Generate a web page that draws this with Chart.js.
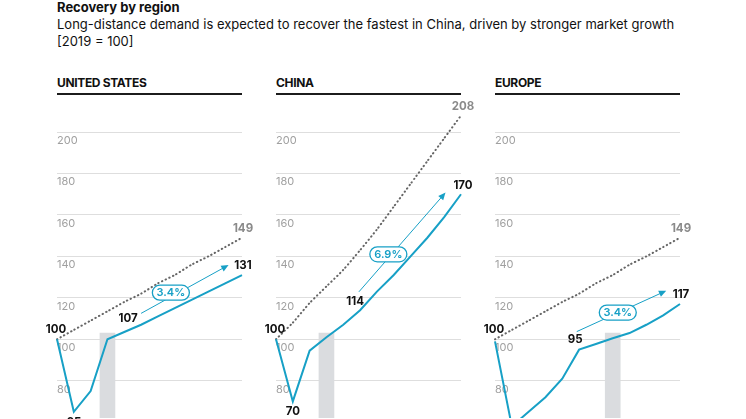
<!DOCTYPE html>
<html>
<head>
<meta charset="utf-8">
<script src="https://cdn.jsdelivr.net/npm/chart.js@4.4.1/dist/chart.umd.min.js"></script>
<style>
  body { margin: 0; width: 746px; height: 419px; overflow: hidden; background: #fff; position: relative;
         font-family: Inter, "Noto Sans", sans-serif; color: #111; }
  .hdr { position: absolute; left: 57px; top: -1px; font-size: 13px; line-height: 17px; }
  .hdr b { font-weight: 700; }
  .ptitle { position: absolute; top: 77px; font-size: 12px; line-height: 12px; font-weight: 700; letter-spacing: -0.35px; }
  .rule { position: absolute; top: 93px; height: 2px; width: 185px; background: #1c1c1c; }
  canvas { position: absolute; top: 90px; }
</style>
</head>
<body>
<div class="hdr">
  <b>Recovery by region</b><br>
  Long-distance demand is expected to recover the fastest in China, driven by stronger market growth<br>
  [2019 = 100]
</div>

<div class="ptitle" style="left:57px">UNITED STATES</div>
<div class="rule" style="left:57px"></div>
<div class="ptitle" style="left:276px">CHINA</div>
<div class="rule" style="left:276px"></div>
<div class="ptitle" style="left:495px">EUROPE</div>
<div class="rule" style="left:495px"></div>

<canvas id="usChart" width="225" height="329" style="left:37px"></canvas>
<canvas id="chinaChart" width="225" height="329" style="left:256px"></canvas>
<canvas id="europeChart" width="225" height="329" style="left:475px"></canvas>

<script>
const years = ['2019','2020','2021','2022','2023','2024','2025','2026','2027','2028','2029','2030'];
const tickValues = [80, 100, 120, 140, 160, 180, 200];

const usActual = [100, 65, 75, 100, 103.5, 107, 111, 115, 119, 123, 127, 131];
const usTrend = [100, 104.5, 109, 113.5, 118, 122, 127, 131, 136, 140, 144.5, 149];
const usRecovery = [null, null, null, 103, null, null, null, null, null, null, null, null];
const usRate = '3.4%';

const chinaActual = [100, 70, 94.5, 101, 107, 114, 123, 131, 140, 149, 159, 170];
const chinaTrend = [100, 108, 117.5, 125.5, 133.5, 143, 153, 164, 175, 186, 197, 208];
const chinaRecovery = [null, null, null, 103, null, null, null, null, null, null, null, null];
const chinaRate = '6.9%';

const europeActual = [99, 58, 65, 72, 81, 95, 97.7, 100.5, 103, 107, 111.5, 117];
const europeTrend = [100, 104.5, 109, 113.5, 118, 122, 127, 131, 136, 140, 144.5, 149];
const europeRecovery = [null, null, null, null, null, null, null, 103, null, null, null, null];
const europeRate = '3.4%';

const TEAL = '#17a0c6';
const FONT = 'Inter, "Noto Sans", sans-serif';

// overlay: value labels, growth arrow and rate pill
function makeOverlay(panel) {
  return {
    id: 'overlay',
    afterDatasetsDraw(chart) {
      const { ctx, scales: { x, y } } = chart;
      ctx.save();

      // arrow
      const x1 = x.getPixelForValue(panel.arrow[0]), y1 = y.getPixelForValue(panel.arrow[1]);
      const x2 = x.getPixelForValue(panel.arrow[2]), y2 = y.getPixelForValue(panel.arrow[3]);
      const ang = Math.atan2(y2 - y1, x2 - x1);
      const head = 8;
      ctx.strokeStyle = TEAL;
      ctx.fillStyle = TEAL;
      ctx.lineWidth = 1;
      ctx.beginPath();
      ctx.moveTo(x1, y1);
      ctx.lineTo(x2 - Math.cos(ang) * head * 0.8, y2 - Math.sin(ang) * head * 0.8);
      ctx.stroke();
      ctx.beginPath();
      ctx.moveTo(x2, y2);
      ctx.lineTo(x2 - Math.cos(ang - 0.42) * head, y2 - Math.sin(ang - 0.42) * head);
      ctx.lineTo(x2 - Math.cos(ang + 0.42) * head, y2 - Math.sin(ang + 0.42) * head);
      ctx.closePath();
      ctx.fill();

      // pill
      const px = x.getPixelForValue(panel.pill[0]), py = y.getPixelForValue(panel.pill[1]);
      const w = 37, h = 15;
      ctx.beginPath();
      ctx.roundRect(px - w / 2, py - h / 2, w, h, h / 2);
      ctx.fillStyle = '#fff';
      ctx.fill();
      ctx.lineWidth = 1.3;
      ctx.strokeStyle = TEAL;
      ctx.stroke();
      ctx.fillStyle = TEAL;
      ctx.font = '600 11px ' + FONT;
      ctx.textAlign = 'center';
      ctx.textBaseline = 'middle';
      ctx.fillText(panel.rate, px, py + 0.5);

      // value labels
      ctx.font = 'bold 11.5px ' + FONT;
      panel.labels.forEach(l => {
        const src = l.trend ? panel.trend : panel.actual;
        const lx = x.getPixelForValue(l.i) + l.dx;
        const ly = y.getPixelForValue(src[l.i]) + l.dy;
        ctx.fillStyle = l.trend && !l.dark ? '#8a8a8a' : '#111';
        ctx.fillText(String(Math.round(src[l.i])), lx, ly);
      });
      ctx.restore();
    }
  };
}

function drawPanel(id, panel) {
  const ctx = document.getElementById(id).getContext('2d');
  new Chart(ctx, {
    data: {
      labels: years,
      datasets: [
        { type: 'bar', data: panel.recovery, backgroundColor: '#dadcdf', barThickness: 15, order: 3 },
        { type: 'line', data: panel.trend, borderColor: '#666', borderWidth: 2, borderCapStyle: 'round',
          borderDash: [0.4, 3.6], pointRadius: 0, tension: 0.2, order: 2 },
        { type: 'line', data: panel.actual, borderColor: TEAL, borderWidth: 2,
          pointRadius: 0, tension: 0, order: 1 }
      ]
    },
    options: {
      responsive: false,
      animation: false,
      events: [],
      layout: { padding: { left: 20, right: 20, top: 11, bottom: 1 } },
      plugins: { legend: { display: false }, tooltip: { enabled: false } },
      scales: {
        x: { display: false, offset: false },
        y: {
          min: 62, max: 215,
          afterBuildTicks: axis => { axis.ticks = tickValues.map(v => ({ value: v })); },
          afterFit: axis => { axis.paddingTop = 0; axis.paddingBottom = 0; },
          border: { display: false },
          grid: { color: '#dedede', lineWidth: 1, drawTicks: false },
          ticks: { mirror: true, padding: 0, labelOffset: 8.5, color: '#a0a0a0',
                   font: { family: FONT, size: 11 } }
        }
      }
    },
    plugins: [makeOverlay(panel)]
  });
}

drawPanel('usChart', {
  actual: usActual, trend: usTrend, recovery: usRecovery, rate: usRate,
  arrow: [5, 112.5, 10.2, 135.8], pill: [6.77, 122.5],
  labels: [
    { i: 0, dx: -1, dy: -9.5 }, { i: 1, dx: 0, dy: 10.5 }, { i: 5, dx: -13, dy: -6 },
    { i: 11, dx: 1, dy: -9 }, { i: 11, trend: true, dx: 1, dy: -9 }
  ]
});
drawPanel('chinaChart', {
  actual: chinaActual, trend: chinaTrend, recovery: chinaRecovery, rate: chinaRate,
  arrow: [4.93, 122.9, 10.08, 170.8], pill: [6.68, 141],
  labels: [
    { i: 0, dx: -1, dy: -9.5 }, { i: 1, dx: 0, dy: 10.5 }, { i: 5, dx: -5, dy: -9 },
    { i: 11, dx: 2, dy: -9 }, { i: 11, trend: true, dx: 2, dy: -9 }
  ]
});
drawPanel('europeChart', {
  actual: europeActual, trend: europeTrend, recovery: europeRecovery, rate: europeRate,
  arrow: [4.86, 103.7, 10.18, 123.4], pill: [7.3, 112.9],
  labels: [
    { i: 0, trend: true, dark: true, dx: -1, dy: -9.5 }, { i: 5, dx: -4, dy: -10 },
    { i: 11, dx: 1, dy: -9.5 }, { i: 11, trend: true, dx: 1, dy: -9 }
  ]
});
</script>
</body>
</html>
